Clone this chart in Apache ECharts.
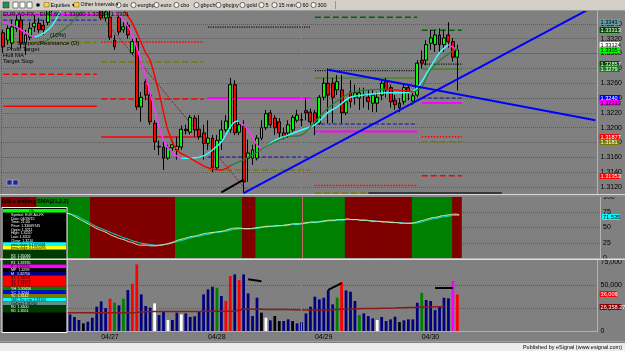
<!DOCTYPE html>
<html><head><meta charset="utf-8">
<script src="https://cdn.jsdelivr.net/npm/echarts@6/dist/echarts.min.js"></script>
<style>html,body{margin:0;padding:0;background:#808080;overflow:hidden}#c{width:625px;height:351px}</style>
</head><body><div id="c"></div><script>
// ---------- DATA ----------
const dayStartIdx = [22, 46, 70, 94];
const categories = [];
for (let i = 0; i < 134; i++) { const t = i + 2; const d = 26 + Math.floor(t / 24); const h = t % 24; categories.push('04/' + d + ' ' + String(h).padStart(2, '0') + ':00'); }

const open = [1.3328,1.3318,1.3314,1.3334,1.3345,1.3314,1.3322,1.3336,1.3341,1.3338,
1.3342,1.3361,1.3372,1.3380,1.3376,1.3388,1.3395,1.3389,1.3392,1.3386,
1.3380,1.3383,1.3365,1.3348,1.3349,1.3318,1.3349,1.3332,1.3338,1.3301,
1.3316,1.3228,1.3262,1.3244,1.3206,1.3175,1.3174,1.3159,1.3173,1.3170,
1.3174,1.3198,1.3194,1.3213,1.3198,1.3193,1.3179,1.3186,1.3146,1.3183,
1.3197,1.3197,1.3258,1.3194,1.3202,1.3159,1.3159,1.3159,1.3186,1.3200,
1.3220,1.3213,1.3208,1.3193,1.3193,1.3197,1.3210,1.3211,1.3223,1.3221,
1.3220,1.3206,1.3241,1.3260,1.3260,1.3251,1.3251,1.3220,1.3248,1.3241,
1.3240,1.3243,1.3241,1.3233,1.3233,1.3244,1.3262,1.3254,1.3237,1.3233,
1.3235,1.3254,1.3236,1.3244,1.3291,1.3291,1.3314,1.3312,1.3325,1.3312,
1.3325,1.3316,1.3295];
const close = [1.3309,1.3334,1.3336,1.3345,1.3314,1.3325,1.3334,1.3341,1.3332,1.3332,
1.3361,1.3372,1.3380,1.3376,1.3388,1.3395,1.3389,1.3392,1.3386,1.3380,
1.3383,1.3372,1.3348,1.3356,1.3322,1.3309,1.3329,1.3336,1.3325,1.3316,
1.3228,1.3241,1.3244,1.3208,1.3181,1.3174,1.3159,1.3173,1.3177,1.3175,
1.3198,1.3196,1.3214,1.3197,1.3188,1.3179,1.3186,1.3146,1.3183,1.3197,
1.3209,1.3258,1.3193,1.3204,1.3127,1.3166,1.3170,1.3186,1.3200,1.3219,
1.3204,1.3200,1.3193,1.3188,1.3204,1.3214,1.3217,1.3210,1.3220,1.3208,
1.3206,1.3241,1.3260,1.3244,1.3241,1.3262,1.3220,1.3235,1.3235,1.3247,
1.3247,1.3244,1.3235,1.3244,1.3241,1.3260,1.3251,1.3235,1.3231,1.3227,
1.3254,1.3247,1.3243,1.3287,1.3287,1.3312,1.3321,1.3325,1.3312,1.3321,
1.3316,1.3295,1.3305];
const low = [1.3301,1.3312,1.3305,1.3329,1.3307,1.3298,1.3318,1.3329,1.3328,1.3325,
1.3338,1.3356,1.3366,1.3370,1.3372,1.3382,1.3384,1.3385,1.3381,1.3376,
1.3374,1.3366,1.3345,1.3344,1.3318,1.3305,1.3325,1.3328,1.3320,1.3298,
1.3224,1.3208,1.3237,1.3204,1.3170,1.3163,1.3143,1.3157,1.3169,1.3157,
1.3170,1.3191,1.3191,1.3188,1.3184,1.3157,1.3170,1.3140,1.3144,1.3170,
1.3194,1.3193,1.3190,1.3190,1.3112,1.3127,1.3150,1.3156,1.3183,1.3197,
1.3200,1.3190,1.3186,1.3184,1.3186,1.3194,1.3207,1.3202,1.3210,1.3204,
1.3190,1.3204,1.3237,1.3206,1.3206,1.3244,1.3206,1.3217,1.3227,1.3231,
1.3224,1.3227,1.3224,1.3221,1.3221,1.3237,1.3241,1.3227,1.3224,1.3221,
1.3231,1.3237,1.3231,1.3241,1.3280,1.3284,1.3305,1.3302,1.3302,1.3302,
1.3308,1.3289,1.3250];
const high = [1.3332,1.3338,1.3345,1.3352,1.3352,1.3332,1.3342,1.3352,1.3348,1.3345,
1.3369,1.3378,1.3388,1.3386,1.3394,1.3402,1.3400,1.3398,1.3396,1.3390,
1.3388,1.3386,1.3370,1.3360,1.3359,1.3325,1.3352,1.3342,1.3342,1.3320,
1.3321,1.3248,1.3267,1.3248,1.3210,1.3183,1.3183,1.3177,1.3183,1.3188,
1.3203,1.3204,1.3217,1.3217,1.3217,1.3204,1.3210,1.3190,1.3190,1.3210,
1.3217,1.3267,1.3264,1.3210,1.3210,1.3184,1.3177,1.3190,1.3210,1.3224,
1.3224,1.3217,1.3213,1.3200,1.3210,1.3217,1.3224,1.3220,1.3240,1.3226,
1.3224,1.3244,1.3267,1.3280,1.3267,1.3271,1.3271,1.3237,1.3264,1.3258,
1.3254,1.3254,1.3251,1.3251,1.3248,1.3264,1.3267,1.3258,1.3244,1.3240,
1.3258,1.3258,1.3247,1.3291,1.3304,1.3318,1.3332,1.3332,1.3334,1.3332,
1.3342,1.3321,1.3312];

// Hull MA read points [barIndex, price]; rising part (cyan) and falling part (magenta)
const hullUp = [
 [[7,1.3322],[9,1.3327],[11,1.3338],[13,1.3359],[14,1.3372]],
 [[40,1.3159],[42,1.3159],[45,1.3162],[47,1.3170],[49,1.3181],[51,1.3201],[52,1.3208],[53,1.3209]],
 [[58,1.3170],[59,1.3174],[61,1.3183],[64,1.3190],[67,1.3197],[70,1.3204],[73,1.3221],[75,1.3228],[78,1.3241],[81,1.3244],[86,1.3247],[91,1.3247],[93,1.3254],[96,1.3282],[98,1.3301],[100,1.3312]]
];
const hullDn = [
 [[0,1.3342],[3,1.3336],[5,1.3328],[7,1.3322]],
 [[24,1.3361],[27,1.3345],[29,1.3325],[32,1.3268],[34,1.3224],[36,1.3183],[38,1.3166],[40,1.3159]],
 [[53,1.3209],[55,1.3197],[57,1.3177],[58,1.3170]],
 [[100,1.3312],[102,1.3305]]
];
// Trend-stop / slow MA read points
const slowUp = [
 [[8,1.3312],[11,1.3322],[14,1.3334],[17,1.3352],[18,1.3359],[20,1.3379]],
 [[51,1.3149],[54,1.3157],[57,1.3167],[61,1.3181],[64,1.3188],[67,1.3190],[70,1.3208],[73,1.3227],[78,1.3247],[82,1.3251],[86,1.3252]],
 [[92,1.3248],[94,1.3255],[96,1.3278],[99,1.3295],[102,1.3307]]
];
const slowDn = [
 [[26,1.3372],[27,1.3359],[29,1.3341],[32,1.3301],[33,1.3291],[35,1.3247],[37,1.3197],[39,1.3170],[42,1.3159],[46,1.3146],[49,1.3143],[51,1.3149]],
 [[86,1.3252],[90,1.3250],[92,1.3248]]
];
// pivot levels: [firstBar, lastBar, price]
const levels = {
 R2: [[70,93,1.3349],[94,103,1.33313333]],
 R1: [[46,69,1.33357],[70,93,1.3277],[94,103,1.32856667]],
 YH: [[70,93,1.3267],[94,103,1.3279]],
 YC: [[0,21,1.3345],[46,69,1.31605],[70,93,1.3205],[94,103,1.3240]],
 P:  [[0,21,1.3352],[46,69,1.3240],[70,93,1.3195],[94,103,1.32333333]],
 S1: [[22,45,1.33155],[70,93,1.3122],[94,103,1.31876667]],
 YL: [[0,21,1.3315],[22,45,1.32886],[46,69,1.3143],[70,82,1.3112],[94,103,1.3181]],
 S2: [[0,21,1.3272],[22,45,1.32387],[94,103,1.31353333]],
 S3: [[0,21,1.3229],[22,45,1.31874]]
};
const trendUp = [[54,1.3112],[133,1.33644]];
const trendDn = [[73,1.3278],[133,1.3210]];
const fibDown = [[22,1.3350],[55,1.3113]];
const fibUp = [[55,1.3112],[100,1.3345]];
const blackSeg = [[49,1.3113],[54,1.3130]];
const dayLow = [[82,1.3112],[112,1.3112]];
const cursorIdx = 67, cursorPrice = 1.3307;
const priceTags = [1.3343, 1.33313, 1.3312, 1.3305, 1.32857, 1.3279, 1.3240, 1.32333, 1.31877, 1.3181, 1.31353];
const priceTagText = ['1.3343','1.33313','1.33124','1.3305','1.32857','1.3279','1.3240','1.32333','1.31877','1.3181','1.31353'];

// RSI panel
const rsiState = []; // 1 = up (green), 0 = down (red)
const rsiRuns = [[0,7,0],[8,19,1],[20,38,0],[39,53,1],[54,56,0],[57,76,1],[77,91,0],[92,100,1],[101,102,0]];
rsiRuns.forEach(r => { for (let i = r[0]; i <= r[1]; i++) rsiState[i] = r[2]; });
const rsi = [60,58,62,66,60,63,66,68,70,72,74,76,78,76,74,72,68,64,60,56,
52,48,45,42,38,35,32,30,27,25,22,21,21,20,20,21,22,24,26,29,
31,33,35,36,38,40,41,42,43,44,46,48,49,49,48,48,49,50,51,52,
52,53,53,54,55,56,56,57,58,59,59,60,61,62,62,63,63,64,63,63,
62,62,61,60,60,59,59,58,58,57,57,57,58,60,62,64,66,67,69,70,
71,72,71];
const rsiSma = [58,58,59,60,61,62,63,64,65,67,69,71,72,73,73,72,70,67,63,59,
55,51,48,45,42,39,36,33,31,28,26,24,23,22,21,21,22,23,25,27,
29,31,33,35,36,38,39,41,42,43,44,46,47,48,48,48,48,49,50,51,
52,52,53,53,54,55,55,56,57,58,58,59,60,61,61,62,62,63,63,63,
62,62,61,61,60,60,59,59,58,58,57,57,57,58,60,62,64,65,67,68,
69,70,70];
const rsiTags = [67], rsiTagText = ['71.535'];

// Volume panel
const vol = [21000,18000,16000,24000,27000,19000,15000,17000,22000,26000,30000,24000,21000,19000,17000,
18000,15200,11900,8300,10100,14400,26400,32100,24900,35000,
30700,27800,35000,44400,51300,72200,39700,27100,25300,30000,
17300,20900,11900,11900,19900,18000,19100,15200,15900,20600,
39700,45100,48000,46900,37900,32500,59600,61400,55200,61400,
40800,16200,36100,19900,14400,11600,16200,10800,10800,12600,
10800,8300,9700,19100,26400,37200,34300,36100,44400,28900,
36100,53100,44000,42600,32500,17300,19100,16200,13700,11900,
15200,10800,12600,15500,9700,11600,12600,12600,30700,41500,
33600,32500,22700,26400,36100,35400,54200,39700];
const volClass = 'nnnnnnnnnnnnnnnnnnxnnnnnhmnmnhhnnnlnnlnnlnnnnnnnmnhhnhnnnnxlnxxnnxnnnnnnnnnmhnnnmnnnlnnnnxnnnnmnnnnnnch';
const volMA = [19500,19500,19500,19600,19600,19600,19600,19700,19700,19700,19700,19700,19700,19700,19700,
19700,19700,19700,19700,19700,19700,19700,19700,19700,19700,19800,19800,19800,19900,19900,20200,
20600,20900,21100,21100,21100,21100,21100,21100,21100,21100,21100,21100,21100,21200,21300,21300,
21400,21400,21500,21500,21500,21600,22400,23500,23600,23600,23600,23500,23400,23300,23300,23300,
23300,23200,23100,23000,22900,22800,22800,22800,22800,22800,22900,23000,23400,23600,23700,23800,
24000,24200,24300,24300,24400,24500,24700,24800,24800,24900,25100,25300,25500,25600,25800,25900,
26000,26100,26200,26300,26358];
const volSegs = [[[55,56000],[58,54000]],[[73,44500],[76,52000]],[[97,46600],[101,46600]]];
const volTags = [39700, 26358.27];
const volTagText = ['36,006', '26,358.27'];

// ---------- STYLE ----------
const FONT = 'Liberation Sans';
const levelStyle = {
 R2:{c:'#006400',t:'dashed',w:1.5}, R1:{c:'#101010',t:'dotted',w:1.2}, YH:{c:'#4e7f2e',t:'solid',w:1.5},
 YC:{c:'#1010c0',t:'dashed',w:1}, P:{c:'#ff00ff',t:'solid',w:2}, S1:{c:'#ff0000',t:'dotted',w:1.5},
 YL:{c:'#7a7a00',t:'dashed',w:1.5}, S2:{c:'#ff0000',t:'dashed',w:1.5}, S3:{c:'#ff0000',t:'solid',w:1.5}
};
const priceTagStyle = [['#5f9ea0','#000'],['#004d00','#fff'],['#ffffff','#000'],['#00ff00','#000'],['#004d00','#fff'],['#1f7a1f','#fff'],
 ['#0000ff','#fff'],['#ff00ff','#000'],['#ff0000','#fff'],['#7a7a00','#fff'],['#ff0000','#fff']];
const rsiTagStyle = [['#00ffff','#000']];
const volTagStyle = [['#ff0000','#fff'],['#8b0000','#fff']];
const volColors = {n:'#000080', h:'#ff0000', m:'#008000', l:'#ffffff', x:'#000000', c:'#ff00ff'};

// value tags drawn just right of the plot, at the value's position on the axis
function tagSeries(axisIdx, values, texts, styles, width) {
 return {type:'custom', xAxisIndex:axisIdx, yAxisIndex:axisIdx, silent:true, z:20, clip:false,
  data: values.map((v,k)=>[0, v, k]), encode:{x:0, y:1},
  renderItem:(params, api) => {
   const k = api.value(2); const y = api.coord([0, api.value(1)])[1];
   const cs = params.coordSys; const x = cs.x + cs.width + 2;
   return {type:'group', children:[
    {type:'rect', shape:{x:x, y:Math.round(y)-3, width:width[k]||20, height:6}, style:{fill:styles[k][0]}},
    {type:'text', x:x+1, y:Math.round(y)+0.2, style:{text:texts[k], fill:styles[k][1], font:'5.6px '+FONT, verticalAlign:'middle'}}
   ]};
  }};
}

const series = [];
series.push({
 type:'candlestick', xAxisIndex:0, yAxisIndex:0, barWidth:3.4, z:5,
 data: open.map((o,i)=>[o, close[i], low[i], high[i]]),
 itemStyle:{color:'#00ff00', color0:'#ff0000', borderColor:'#000', borderColor0:'#000', borderWidth:1},
 markLine:{silent:true, symbol:'none', animation:false, data:[
   {yAxis:cursorPrice, lineStyle:{color:'#c04040', width:1, type:'solid'}, label:{show:false}},
   {xAxis:categories[cursorIdx], lineStyle:{color:'#c86464', width:1, type:'solid'}, label:{show:false}}]}
});
series.push(tagSeries(0, priceTags, priceTagText, priceTagStyle, []));
function lineSeries(data, color, width, type, z, extra) {
 return Object.assign({type:'line', xAxisIndex:0, yAxisIndex:0, data, symbol:'none', smooth:0.3, z:z||4,
   lineStyle:{color, width, type:type||'solid'}, silent:true, clip:true}, extra||{});
}
Object.keys(levels).forEach(k => {
 levels[k].forEach(seg => {
   const st = levelStyle[k];
   const isLast = seg[0] === 94;
   const txt = (k==='YH'||k==='YC'||k==='YL') ? k + '= ' + seg[2].toFixed(4) : k + '=' + seg[2].toFixed(8);
   const end = isLast ? {value:[seg[1], seg[2]], label:{show:true, position:'right', distance:9, formatter:txt, color:'#00006a', fontSize:5.5, fontFamily:FONT}} : [seg[1], seg[2]];
   series.push(lineSeries([[seg[0], seg[2]], end], st.c, st.w, st.t, 3, {smooth:false}));
 });
});
hullUp.forEach(s => series.push(lineSeries(s, '#33ffff', 1.5, 'solid', 6)));
hullDn.forEach(s => series.push(lineSeries(s, '#ff33ff', 1.5, 'solid', 6)));
slowUp.forEach(s => series.push(lineSeries(s, '#2e7d32', 1.3, 'solid', 6)));
slowDn.forEach(s => series.push(lineSeries(s, '#ff0000', 1.5, 'solid', 6)));
series.push(lineSeries(trendUp, '#0000ff', 2, 'solid', 7, {smooth:false}));
series.push(lineSeries(trendDn, '#0000ff', 2, 'solid', 7, {smooth:false}));
series.push(lineSeries(fibDown, '#7a1010', 1, 'dotted', 4, {smooth:false}));
series.push(lineSeries(fibUp, '#4fa0a0', 1, 'dotted', 4, {smooth:false}));
series.push(lineSeries(blackSeg, '#000', 2, 'solid', 7, {smooth:false}));
series.push(lineSeries([dayLow[0], {value:dayLow[1], label:{show:true, position:'right', distance:4, formatter:'D:  1.3112', color:'#00006a', fontSize:5.5, fontFamily:FONT}}], '#202020', 1.5, 'solid', 7, {smooth:false}));

// RSI panel
series.push({type:'bar', xAxisIndex:1, yAxisIndex:1, data: rsiState.map(()=>100), barWidth:5.2, barCategoryGap:'0%', silent:true, z:1,
 itemStyle:{color:p => rsiState[p.dataIndex] ? '#008000' : '#800000'},
 markLine:{silent:true, symbol:'none', animation:false, data:[
  {xAxis:categories[cursorIdx], lineStyle:{color:'#c86464', width:1, type:'solid'}, label:{show:false}}]}});
series.push({type:'line', xAxisIndex:1, yAxisIndex:1, data:rsiSma, symbol:'none', smooth:true, lineStyle:{color:'#00e5ff', width:1}, z:3, silent:true});
series.push({type:'line', xAxisIndex:1, yAxisIndex:1, data:rsi, symbol:'none', smooth:true, lineStyle:{color:'#f0f0a0', width:1}, z:4, silent:true});
series.push(tagSeries(1, rsiTags, rsiTagText, rsiTagStyle, [18]));

// Volume panel
series.push({type:'bar', xAxisIndex:2, yAxisIndex:2, data: vol.map((v,i)=>({value:v, itemStyle:{color:volColors[volClass[i]]}})), barWidth:'62%', silent:true, z:3,
 markLine:{silent:true, symbol:'none', animation:false, data:[
  {xAxis:categories[cursorIdx], lineStyle:{color:'#c86464', width:1, type:'solid'}, label:{show:false}}]}});
series.push({type:'line', xAxisIndex:2, yAxisIndex:2, data:volMA, symbol:'none', lineStyle:{color:'#8b1a1a', width:1.5}, z:4, silent:true});
volSegs.forEach(s => series.push({type:'line', xAxisIndex:2, yAxisIndex:2, data:s, symbol:'none', lineStyle:{color:'#000', width:2}, z:5, silent:true}));
series.push(tagSeries(2, volTags, volTagText, volTagStyle, [17, 22]));

// ---------- CHROME ----------
const g = [];
g.push({type:'rect', shape:{x:0,y:0,width:625,height:10}, style:{fill:'#d4d0c8'}, z:100});
g.push({type:'rect', shape:{x:0,y:10,width:625,height:1}, style:{fill:'#9a9a9a'}, z:100});
const tbItems = [['dx',122],['eurgbp',137],['euro',160],['cbo',180],['gbpchf',200],['gbpjpy',222],['gold',246],['5',265],['15 min',278],['60',302],['300',317]];
tbItems.forEach(t => {
 g.push({type:'circle', shape:{cx:t[1]-3.5, cy:5, r:2.6}, style:{fill:'#f4f4f4', stroke:'#303030', lineWidth:0.7}, z:101});
 g.push({type:'text', x:t[1]+0.5, y:2.2, style:{text:t[0], fill:'#000', font:'5.5px '+FONT}, z:101});
});
g.push({type:'rect', shape:{x:3,y:2,width:6,height:6}, style:{fill:'#2e8b57', stroke:'#1a3a1a', lineWidth:0.5}, z:101});
[13,20,27].forEach(x => g.push({type:'rect', shape:{x:x,y:2,width:5,height:6}, style:{fill:'#ffffff', stroke:'#333', lineWidth:0.6}, z:101}));
g.push({type:'circle', shape:{cx:38,cy:5,r:1.8}, style:{fill:'#000'}, z:101});
g.push({type:'rect', shape:{x:44,y:2.5,width:5,height:4.5}, style:{fill:'#f0d060', stroke:'#806000', lineWidth:0.5}, z:101});
g.push({type:'text', x:50.5, y:2.2, style:{text:'Equities \u25BE', fill:'#000', font:'5.5px '+FONT}, z:101});
g.push({type:'rect', shape:{x:74,y:2.5,width:5,height:4.5}, style:{fill:'#f0d060', stroke:'#806000', lineWidth:0.5}, z:101});
g.push({type:'text', x:80.5, y:2.2, style:{text:'Other Intervals \u25BE', fill:'#000', font:'5.2px '+FONT}, z:101});
g.push({type:'rect', shape:{x:335,y:1,width:0.8,height:8}, style:{fill:'#888'}, z:101});
// panel separators
g.push({type:'rect', shape:{x:0,y:194,width:625,height:1}, style:{fill:'#d8d8d8'}, z:90});
g.push({type:'rect', shape:{x:0,y:195,width:625,height:2}, style:{fill:'#8a8a8a'}, z:90});
g.push({type:'rect', shape:{x:0,y:258.5,width:625,height:1.5}, style:{fill:'#e0e0e0'}, z:90});
// bottom status
g.push({type:'rect', shape:{x:0,y:341,width:625,height:1}, style:{fill:'#a0a0a0'}, z:90});
g.push({type:'rect', shape:{x:0,y:343,width:625,height:8}, style:{fill:'#ececec'}, z:90});
g.push({type:'text', x:622, y:344, style:{text:'Published by eSignal (www.esignal.com)', fill:'#000', font:'5.5px '+FONT, align:'right'}, z:91});
// title & legend texts
g.push({type:'text', x:3, y:11, style:{text:'EUR A0-FX - EUR,60  1.33000 1.33184 1.3301', fill:'#000', font:'6px '+FONT}, z:50});
[['(10%)',50,32],['Support/Resistance (D)',17,40],['Profit Target',7,46],['Hull MA',3,52],['Target Stop',3,58]].forEach(t =>
 g.push({type:'text', x:t[1], y:t[2], style:{text:t[0], fill:'#000', font:'6px '+FONT}, z:50}));
// small buttons
[7,13].forEach(x => g.push({type:'rect', shape:{x:x,y:180,width:5,height:5}, style:{fill:'#1a2a8a', stroke:'#c0c0ff', lineWidth:0.5}, z:50}));
g.push({type:'text', x:2, y:198, style:{text:'RSI + trailing SMA(21,2,2)', fill:'#000', font:'bold 5.5px '+FONT}, z:50});
// info panel
const infoRows = [
 ['#00ff00','#000',['Ok.']],
 ['#000000','#ffffff',['Symbol: EUR A0-FX','Date: 04/28/15','Time: 21:00','Price: 1.33069745','Open: 1.3211','High: 1.3220','Low: 1.3202','Close: 1.3210']],
 ['#00ffff','#000',['pma-slope 0.1370581']],
 ['#ffff00','#000',['pma-slope 0.1350095']],
 ['#003a00','#ffffff',['','R3  1.35066','R2  1.34516','R1  1.33765']],
 ['#ff00ff','#000',['P   1.33216']],
 ['#000000','#ffffff',['MP  1.3299']],
 ['#000080','#ffffff',['M   1.32750']],
 ['#ff0000','#000',['S1  1.32066','S2  1.32297','S3  1.31752']],
 ['#008000','#ffffff',['YH  1.33456']],
 ['#0000ff','#ffffff',['YC  1.3244']],
 ['#7a7a00','#ffffff',['YL  1.3142']],
 ['#00ffff','#000',['1MC 1hr, info 1.33100']],
 ['#5f8f8f','#000',['OpTing 1.31700']],
 ['#003a00','#ffffff',['R0  1.3600','R0  1.3551']]
];
let yy = 209;
g.push({type:'rect', shape:{x:2,y:207.5,width:65,height:125}, style:{fill:'#000', stroke:'#ffffff', lineWidth:1}, z:60});
infoRows.forEach(r => {
 const h = r[2].length * 3.7;
 g.push({type:'rect', shape:{x:3,y:yy,width:63,height:h}, style:{fill:r[0]}, z:61});
 r[2].forEach((t,k) => { if (t) g.push({type:'text', x:t==='Ok.'?32:11, y:yy+k*3.7+0.2, style:{text:t, fill:r[1], font:'3.6px '+FONT, align:t==='Ok.'?'center':'left'}, z:62}); });
 yy += h;
});

const option = {
 animation:false,
 backgroundColor:'#808080',
 grid:[{left:1,right:25,top:9,height:185.5},{left:1,right:25,top:197,height:61},{left:1,right:25,top:260,height:71}],
 xAxis:[0,1,2].map(gi => ({type:'category', gridIndex:gi, data:categories, boundaryGap:true,
   axisLine:{show:gi===2, lineStyle:{color:'#b0b0b0'}}, axisTick:{show:false},
   axisLabel:{show:gi===2, interval:(i)=>dayStartIdx.indexOf(i)>=0, formatter:v=>v.slice(0,5), align:'left', color:'#000', fontSize:7, fontFamily:FONT, margin:3},
   splitLine:{show:gi===0, interval:(i)=>i===22, lineStyle:{type:'dotted', color:'#5a5a5a'}}})),
 yAxis:[
  {type:'value', gridIndex:0, position:'right', min:1.311, max:1.336, interval:0.001,
   axisLine:{show:true, lineStyle:{color:'#b4b4b4'}}, axisTick:{show:false},
   axisLabel:{color:'#000', fontSize:7, fontFamily:FONT, margin:3, formatter:v => (Math.round(v*1000)%2===0 && v<1.3355) ? v.toFixed(4) : ''},
   splitLine:{show:true, lineStyle:{type:'dotted', color:['rgba(0,0,0,0)','#5a5a5a']}}},
  {type:'value', gridIndex:1, position:'right', min:0, max:100, interval:25,
   axisLine:{show:true, lineStyle:{color:'#b4b4b4'}}, axisTick:{show:false},
   axisLabel:{color:'#000', fontSize:7, fontFamily:FONT, margin:3},
   splitLine:{show:true, lineStyle:{type:'dotted', color:['rgba(0,0,0,0)','#5a5a5a','#5a5a5a','#5a5a5a','rgba(0,0,0,0)']}}},
  {type:'value', gridIndex:2, position:'right', min:0, max:77000, interval:25000,
   axisLine:{show:true, lineStyle:{color:'#b4b4b4'}}, axisTick:{show:false},
   axisLabel:{color:'#000', fontSize:7, fontFamily:FONT, margin:3, formatter:v => v%25000===0 ? v.toLocaleString('en-US') : ''},
   splitLine:{show:true, lineStyle:{type:'dotted', color:['rgba(0,0,0,0)','#5a5a5a','#5a5a5a','rgba(0,0,0,0)','rgba(0,0,0,0)']}}}
 ],
 series,
 graphic: g
};
const chart = echarts.init(document.getElementById('c'), null, {width:625, height:351});
chart.setOption(option);
</script></body></html>
